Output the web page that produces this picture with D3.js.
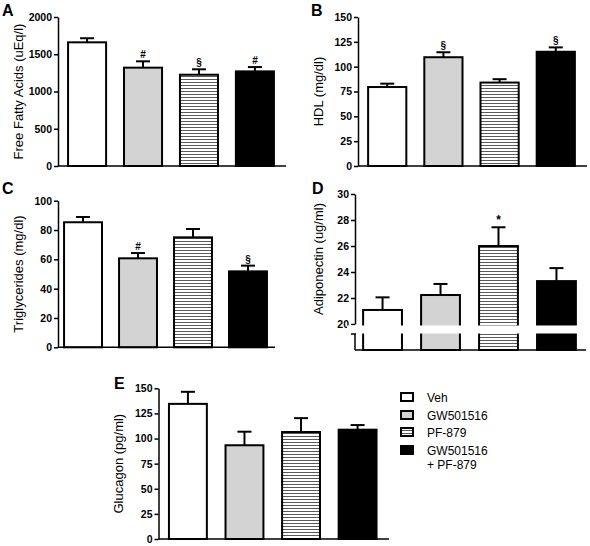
<!DOCTYPE html>
<html><head><meta charset="utf-8">
<script src="https://cdn.jsdelivr.net/npm/d3@7"></script>
<style>
body{margin:0;background:#fff;}
svg{display:block;font-family:"Liberation Sans",Arial,sans-serif;}
</style></head>
<body>
<script>
const groups = ["Veh","GW501516","PF-879","GW501516 + PF-879"];
const ffaMean = [1660,1320,1225,1270];
const ffaErr  = [55,85,73,58];
const ffaSig  = ["","#","§","#"];
const hdlMean = [79.5,109.5,84,115];
const hdlErr  = [3.4,5,3.4,4.4];
const hdlSig  = ["","§","","§"];
const tgMean  = [85.3,60.7,75,51.8];
const tgErr   = [3.6,3.6,5.7,3.9];
const tgSig   = ["","#","","§"];
const adipoMean = [21.08,22.23,26.0,23.3];
const adipoErr  = [0.97,0.85,1.44,1.0];
const adipoSig  = ["","","*",""];
const glucMean = [134.5,93.3,106.5,108.8];
const glucErr  = [12,13.5,13.8,4.6];
const glucSig  = ["","","",""];
const ffaTicks = [0,500,1000,1500,2000];
const hdlTicks = [0,25,50,75,100,125,150];
const tgTicks = [0,20,40,60,80,100];
const adipoTicks = [20,22,24,26,28,30];
const glucTicks = [0,25,50,75,100,125,150];
const legendLabels = ["Veh","GW501516","PF-879","GW501516","+ PF-879"];

const W=590,H=546;
const svg=d3.select("body").append("svg").attr("width",W).attr("height",H);
const defs=svg.append("defs");
const pat=defs.append("pattern").attr("id","hatch").attr("patternUnits","userSpaceOnUse")
  .attr("width",6).attr("height",3);
pat.append("rect").attr("width",6).attr("height",3).attr("fill","#fff");
pat.append("rect").attr("y",1).attr("width",6).attr("height",1).attr("fill","#5a5a5a");
const fills=["#ffffff","#d3d3d3","url(#hatch)","#000000"];

function panel(o){
  const g=svg.append("g");
  const x=d3.scaleBand().domain(groups).range([o.x0,o.x1]).paddingInner(o.pi).paddingOuter(o.po);
  const y=d3.scaleLinear().domain(o.domain).range([o.yb,o.yt]);
  const base = o.baseY!==undefined?o.baseY:y(o.domain[0]);
  groups.forEach((gname,i)=>{
    const v=o.mean[i], e=o.err[i], cx=x(gname)+x.bandwidth()/2;
    g.append("line").attr("x1",cx).attr("x2",cx).attr("y1",y(v)).attr("y2",y(v+e))
      .attr("stroke","#000").attr("stroke-width",2);
    g.append("line").attr("x1",cx-7).attr("x2",cx+7).attr("y1",y(v+e)).attr("y2",y(v+e))
      .attr("stroke","#000").attr("stroke-width",2);
    g.append("rect").attr("x",x(gname)).attr("y",y(v)).attr("width",x.bandwidth())
      .attr("height",base-y(v)).attr("fill",fills[i]).attr("stroke","#000").attr("stroke-width",2);
    if(o.sig[i]){
      g.append("text").attr("x",cx).attr("y",y(v+e)-3).attr("text-anchor","middle")
        .attr("font-size",o.sig[i]==="*"?12:10).attr("font-weight","bold").text(o.sig[i]);
    }
  });
  const ax=g.append("g").attr("transform",`translate(${o.x0},0)`)
    .call(d3.axisLeft(y).tickValues(o.ticks).tickFormat(d3.format("d")).tickSize(4).tickPadding(2).tickSizeOuter(0));
  ax.selectAll("text").attr("font-size",10.5).attr("font-weight","bold").attr("font-family","Liberation Sans, Arial, sans-serif").attr("fill","#000");
  ax.selectAll("line").attr("stroke-width",1.5);
  ax.select(".domain").attr("stroke-width",1.5);
  g.append("line").attr("x1",o.x0).attr("x2",o.x1+2).attr("y1",base).attr("y2",base)
    .attr("stroke","#000").attr("stroke-width",1.5);
  g.append("text").attr("transform",`translate(${o.tx},${(o.yt+o.yb)/2}) rotate(-90)`)
    .attr("text-anchor","middle").attr("font-size",13).text(o.title);
  g.append("text").attr("x",o.lx).attr("y",o.ly).attr("font-size",16).attr("font-weight","bold").text(o.letter);
  return {g,x,y};
}

panel({x0:58,x1:284,pi:0.32,po:0.18,domain:[0,2000],yb:166,yt:17,mean:ffaMean,err:ffaErr,sig:ffaSig,
  ticks:ffaTicks,title:"Free Fatty  Acids (uEq/l)",tx:23,letter:"A",lx:2,ly:16});
panel({x0:358,x1:585,pi:0.32,po:0.18,domain:[0,150],yb:166,yt:17,mean:hdlMean,err:hdlErr,sig:hdlSig,
  ticks:hdlTicks,title:"HDL (mg/dl)",tx:323,letter:"B",lx:311,ly:16});
panel({x0:58,x1:273,pi:0.31,po:0.11,domain:[0,100],yb:347.3,yt:200.7,mean:tgMean,err:tgErr,sig:tgSig,
  ticks:tgTicks,title:"Triglycerides (mg/dl)",tx:23,letter:"C",lx:2,ly:194});
const pD=panel({x0:355,x1:584,pi:0.33,po:0.14,domain:[20,30],yb:324,yt:194,baseY:350,mean:adipoMean,err:adipoErr,sig:adipoSig,
  ticks:adipoTicks,title:"Adiponectin (ug/ml)",tx:323,letter:"D",lx:312,ly:194});
pD.g.append("rect").attr("x",347).attr("y",325.5).attr("width",240).attr("height",8).attr("fill","#fff");
pD.g.append("line").attr("x1",355).attr("x2",355).attr("y1",334).attr("y2",350).attr("stroke","#000").attr("stroke-width",1.5);
pD.g.append("line").attr("x1",351).attr("x2",356).attr("y1",334).attr("y2",334).attr("stroke","#000").attr("stroke-width",1.5);
panel({x0:158.5,x1:387,pi:0.33,po:0.185,domain:[0,150],yb:539,yt:388.3,mean:glucMean,err:glucErr,sig:glucSig,
  ticks:glucTicks,title:"Glucagon (pg/ml)",tx:123,letter:"E",lx:114,ly:389});

const lg=svg.append("g");
const rows=[397,415,432,450];
rows.forEach((ry,i)=>{
  lg.append("rect").attr("x",401).attr("y",ry-4).attr("width",12).attr("height",8)
    .attr("fill",fills[i]).attr("stroke","#000").attr("stroke-width",2);
  lg.append("text").attr("x",427).attr("y",ry+4.5).attr("font-size",12).text(legendLabels[i]);
});
lg.append("text").attr("x",427).attr("y",468.5).attr("font-size",12).text(legendLabels[4]);
</script>
</body></html>
